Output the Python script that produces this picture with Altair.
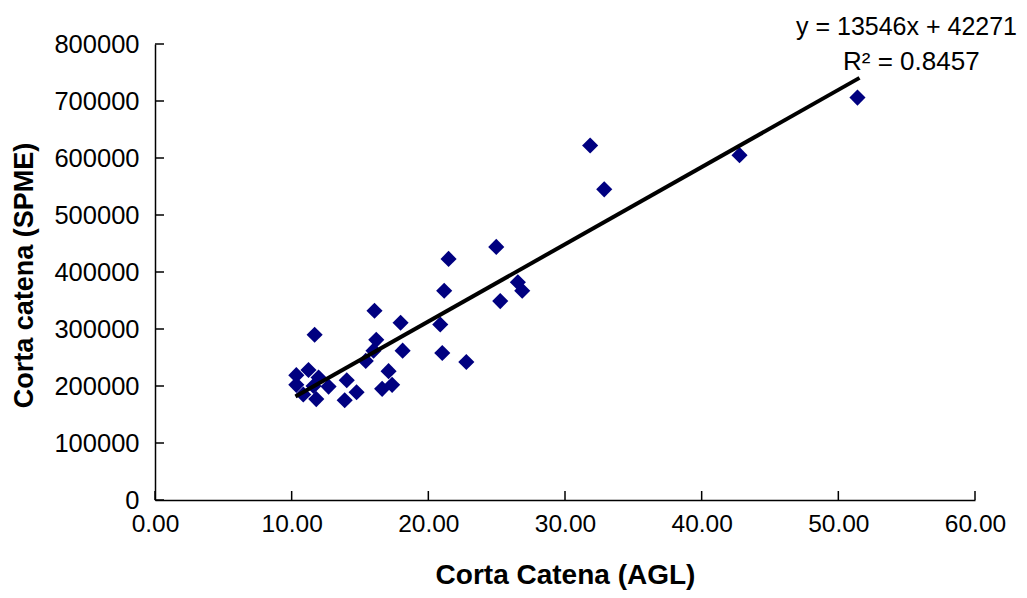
import altair as alt
import pandas as pd

# ---- data ----
x_vals = [10.34, 10.34, 10.85, 11.23, 11.68, 11.60, 11.97, 11.80, 12.70, 13.88,
          14.03, 14.75, 15.42, 16.06, 16.19, 15.99, 16.62, 17.09, 17.35, 17.97,
          18.12, 20.87, 21.02, 21.16, 21.48, 22.78, 24.97, 25.26, 26.55, 26.87,
          31.84, 32.87, 42.77, 51.40]
y_vals = [219000, 202000, 185000, 228000, 290000, 200000, 215000, 177000, 199000, 175000,
          210000, 189000, 244000, 332000, 281000, 262000, 195000, 226000, 202000, 311000,
          262000, 308000, 258000, 367000, 423000, 242000, 444000, 349000, 382000, 367000,
          622000, 545000, 605000, 706000]
slope = 13546
intercept = 42271
r2 = 0.8457
x_ticks = [0, 10, 20, 30, 40, 50, 60]
y_ticks = [0, 100000, 200000, 300000, 400000, 500000, 600000, 700000, 800000]

FONT = "Liberation Sans"

pts = pd.DataFrame({"x": x_vals, "y": y_vals})
line_x = [min(x_vals) - 0.06, max(x_vals) + 0.15]
line_df = pd.DataFrame({"x": line_x, "y": [slope * v + intercept for v in line_x]})
xt_df = pd.DataFrame({"x": x_ticks})
yt_df = pd.DataFrame({"y": y_ticks})
eq_df = pd.DataFrame({"t": [f"y = {slope}x + {intercept}"]})
r2_df = pd.DataFrame({"t": [f"R\u00b2 = {r2}"]})

xscale = alt.Scale(domain=[0, 60], nice=False, zero=False)
yscale = alt.Scale(domain=[0, 800000], nice=False)

xaxis = alt.Axis(
    title="Corta Catena (AGL)", values=x_ticks, format=".2f", grid=False,
    ticks=False, tickSize=0, labelPadding=12, labelFontSize=24.5, labelFont=FONT,
    labelColor="black", titleFont=FONT, titleFontSize=28, titleFontWeight="bold",
    titleColor="black", titleY=75, titleBaseline="middle",
    domainColor="black", domainWidth=1.5, labelOverlap=False, labelFlush=False,
)
yaxis = alt.Axis(
    title="Corta catena (SPME)", values=y_ticks, format="d", grid=False,
    ticks=False, tickSize=0, labelPadding=16, labelFontSize=25.5, labelFont=FONT,
    labelColor="black", titleFont=FONT, titleFontSize=27, titleFontWeight="bold",
    titleColor="black", titleX=-131, titleY=231, titleBaseline="middle",
    domainColor="black", domainWidth=1.5, labelOverlap=False,
)

X = alt.X("x:Q", scale=xscale, axis=xaxis, title="Corta Catena (AGL)")
Y = alt.Y("y:Q", scale=yscale, axis=yaxis, title="Corta catena (SPME)")

points = alt.Chart(pts).mark_point(
    shape="diamond", filled=True, size=260, color="#000080", opacity=1
).encode(x=X, y=Y)

trend = alt.Chart(line_df).mark_line(color="black", strokeWidth=4).encode(x=X, y=Y)

xticks = alt.Chart(xt_df).mark_rule(color="black", strokeWidth=1.5).encode(
    x=X, y=alt.value(456), y2=alt.value(447),
)
yticks = alt.Chart(yt_df).mark_rule(color="black", strokeWidth=1.5).encode(
    y=Y, x=alt.value(0), x2=alt.value(9),
)

eq_text = alt.Chart(eq_df).mark_text(
    align="left", baseline="middle", fontSize=25, font=FONT, color="black"
).encode(x=alt.value(641), y=alt.value(-17), text="t:N")
r2_text = alt.Chart(r2_df).mark_text(
    align="left", baseline="middle", fontSize=26, font=FONT, color="black"
).encode(x=alt.value(688), y=alt.value(18), text="t:N")

chart = alt.layer(points, trend, xticks, yticks, eq_text, r2_text).properties(
    width=820, height=456,
    autosize=alt.AutoSizeParams(type="none"),
    padding={"left": 147, "top": 36, "right": 44, "bottom": 90},
    background="white",
).configure_view(stroke=None)

chart.save("out.html", embed_options={"renderer": "svg", "actions": False})
